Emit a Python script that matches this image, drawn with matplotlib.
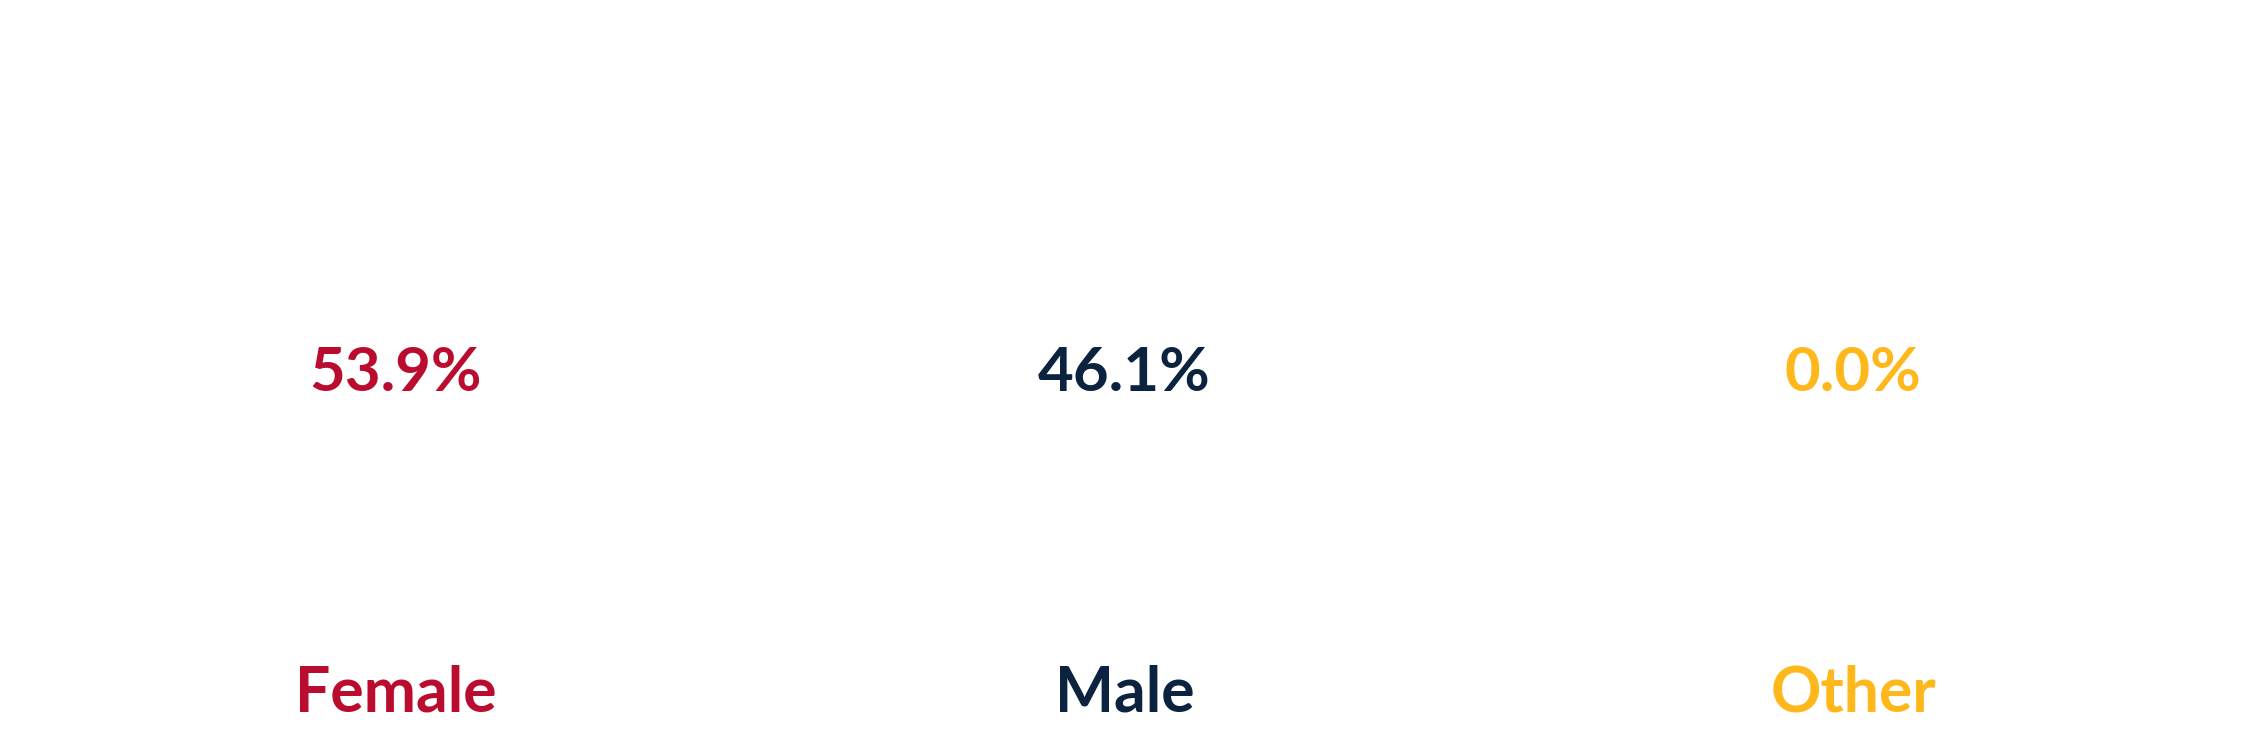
#!/usr/bin/env python3
"""Gender split summary: big percentages over category names."""
import matplotlib.pyplot as plt

categories = ['Female', 'Male', 'Other']
shares = [53.9, 46.1, 0.0]
colors = ['#BA0C2F', '#0C2340', '#FFB81C']


def main():
    plt.rcParams['font.family'] = ['Lato', 'DejaVu Sans']
    fig = plt.figure(figsize=(22.5, 7.5), dpi=100)
    ax = fig.add_axes([0, 0, 1, 1])
    ax.set_xlim(-0.5436, 2.545)
    ax.set_ylim(0, 1)
    ax.axis('off')

    for i, (name, val, col) in enumerate(zip(categories, shares, colors)):
        ax.text(i, 0.479, f'{val:.1f}%', ha='center', va='baseline',
                fontsize=44.5, fontweight='bold', color=col)
        ax.text(i, 0.0507, name, ha='center', va='baseline',
                fontsize=45, fontweight='bold', color=col)

    fig.savefig('out.png', dpi=100, facecolor='white')


if __name__ == '__main__':
    main()
